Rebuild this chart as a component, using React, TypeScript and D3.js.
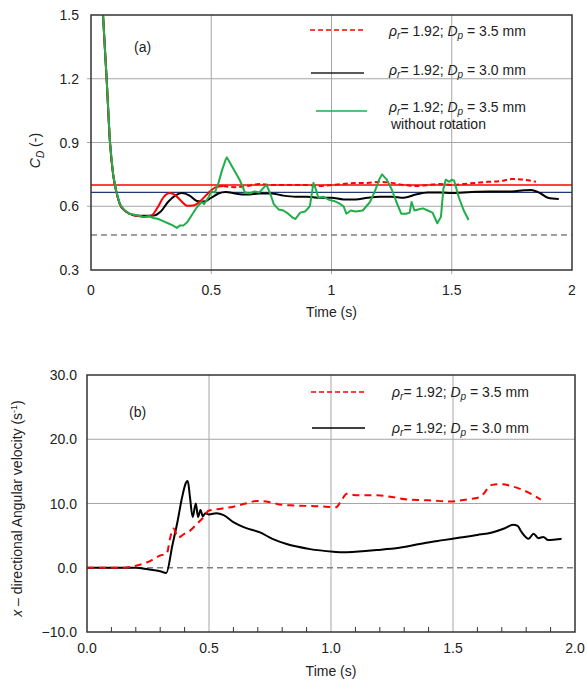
import React from "react";
import * as d3 from "d3";

// ---------- Chart (a): drag coefficient ----------
const cdTicksY = [0.3, 0.6, 0.9, 1.2, 1.5];
const cdTicksX = [0, 0.5, 1, 1.5, 2];
const cdRefRed = 0.7;
const cdRefBlue = 0.665;
const cdRefGray = 0.465;

const rot35T = [0.04, 0.05, 0.065, 0.079, 0.092, 0.105, 0.12, 0.14, 0.16, 0.19, 0.22, 0.25, 0.28, 0.3, 0.328, 0.35, 0.375, 0.4, 0.43, 0.46, 0.49, 0.52, 0.55, 0.6, 0.65, 0.7, 0.75, 0.8, 0.85, 0.9, 0.95, 1.0, 1.05, 1.1, 1.15, 1.2, 1.25, 1.3, 1.35, 1.4, 1.45, 1.5, 1.55, 1.6, 1.65, 1.7, 1.75, 1.8, 1.85];
const rot35V = [1.75, 1.5, 1.2, 0.9, 0.75, 0.67, 0.61, 0.58, 0.565, 0.555, 0.55, 0.555, 0.6, 0.64, 0.662, 0.652, 0.625, 0.602, 0.605, 0.63, 0.665, 0.69, 0.695, 0.69, 0.695, 0.705, 0.7, 0.7, 0.7, 0.7, 0.695, 0.7, 0.705, 0.71, 0.71, 0.715, 0.71, 0.7, 0.695, 0.7, 0.705, 0.7, 0.705, 0.71, 0.715, 0.718, 0.728, 0.725, 0.715];

const rot30T = [0.04, 0.05, 0.065, 0.079, 0.092, 0.105, 0.12, 0.14, 0.16, 0.19, 0.22, 0.26, 0.29, 0.32, 0.35, 0.378, 0.41, 0.44, 0.47, 0.5, 0.53, 0.56, 0.6, 0.65, 0.7, 0.75, 0.8, 0.85, 0.9, 0.95, 1.0, 1.05, 1.1, 1.15, 1.2, 1.25, 1.3, 1.35, 1.4, 1.45, 1.5, 1.55, 1.6, 1.65, 1.7, 1.75, 1.8, 1.83, 1.87, 1.9, 1.945];
const rot30V = [1.75, 1.5, 1.2, 0.9, 0.75, 0.67, 0.61, 0.58, 0.565, 0.555, 0.555, 0.556, 0.575, 0.62, 0.65, 0.662, 0.65, 0.625, 0.622, 0.64, 0.66, 0.667, 0.66, 0.655, 0.66, 0.66, 0.65, 0.645, 0.645, 0.64, 0.64, 0.632, 0.632, 0.64, 0.645, 0.645, 0.64, 0.655, 0.665, 0.665, 0.662, 0.665, 0.668, 0.67, 0.67, 0.67, 0.675, 0.677, 0.66, 0.64, 0.634];

const noRotT = [0.04, 0.05, 0.065, 0.079, 0.092, 0.105, 0.12, 0.14, 0.16, 0.2, 0.22, 0.24, 0.26, 0.28, 0.3, 0.32, 0.34, 0.357, 0.37, 0.385, 0.4, 0.42, 0.44, 0.46, 0.47, 0.49, 0.5, 0.515, 0.53, 0.545, 0.56, 0.565, 0.58, 0.6, 0.62, 0.64, 0.66, 0.68, 0.7, 0.72, 0.73, 0.745, 0.76, 0.78, 0.8, 0.82, 0.84, 0.85, 0.87, 0.89, 0.91, 0.925, 0.935, 0.945, 0.965, 0.99, 1.01, 1.03, 1.05, 1.062, 1.08, 1.1, 1.13, 1.16, 1.18, 1.2, 1.21, 1.23, 1.25, 1.27, 1.29, 1.31, 1.325, 1.333, 1.345, 1.36, 1.38, 1.4, 1.42, 1.44, 1.455, 1.465, 1.475, 1.49, 1.5, 1.51, 1.53, 1.55, 1.57];
const noRotV = [1.75, 1.5, 1.2, 0.9, 0.75, 0.67, 0.61, 0.58, 0.565, 0.555, 0.55, 0.553, 0.545, 0.54, 0.53, 0.52, 0.51, 0.498, 0.51, 0.51, 0.525, 0.56, 0.595, 0.62, 0.61, 0.645, 0.67, 0.665, 0.71, 0.77, 0.82, 0.83, 0.8, 0.76, 0.72, 0.665, 0.66, 0.67, 0.665, 0.69, 0.7, 0.66, 0.61, 0.585, 0.58, 0.565, 0.545, 0.54, 0.57, 0.575, 0.6, 0.71, 0.68, 0.64, 0.645, 0.63, 0.625, 0.615, 0.6, 0.565, 0.58, 0.575, 0.58, 0.62, 0.67, 0.73, 0.75, 0.725, 0.68, 0.62, 0.565, 0.565, 0.57, 0.62, 0.58, 0.585, 0.59, 0.58, 0.57, 0.52, 0.55, 0.68, 0.725, 0.715, 0.725, 0.72, 0.64, 0.58, 0.535];

// ---------- Chart (b): angular velocity ----------
const avTicksY = [-10, 0, 10, 20, 30];
const avTicksX = [0, 0.5, 1.0, 1.5, 2.0];
const avMinorX = [0.1, 0.2, 0.3, 0.4, 0.6, 0.7, 0.8, 0.9, 1.1, 1.2, 1.3, 1.4, 1.6, 1.7, 1.8, 1.9];

const av35T = [0, 0.1, 0.15, 0.2, 0.25, 0.3, 0.327, 0.34, 0.354, 0.374, 0.4, 0.42, 0.45, 0.476, 0.5, 0.55, 0.6, 0.65, 0.7, 0.75, 0.8, 0.85, 0.92, 0.98, 1.02, 1.04, 1.065, 1.1, 1.19, 1.25, 1.32, 1.4, 1.49, 1.55, 1.61, 1.66, 1.7, 1.74, 1.78, 1.82, 1.86];
const av35V = [0, 0, 0, 0.3, 0.9, 1.9, 2.2, 4.5, 6.1, 4.7, 5.3, 5.7, 6.8, 7.8, 8.9, 9.2, 9.5, 10.0, 10.4, 10.2, 9.8, 9.7, 9.6, 9.5, 9.4, 10.3, 11.5, 11.3, 11.3, 11.0, 10.6, 10.5, 10.3, 10.6, 11.0, 12.9, 13.0, 12.7, 12.2, 11.5, 10.6];

const av30T = [0, 0.1, 0.2, 0.25, 0.3, 0.325, 0.35, 0.37, 0.39, 0.405, 0.413, 0.422, 0.433, 0.446, 0.455, 0.465, 0.475, 0.485, 0.5, 0.53, 0.56, 0.6, 0.65, 0.709, 0.76, 0.818, 0.86, 0.914, 1.01, 1.05, 1.1, 1.187, 1.28, 1.39, 1.46, 1.53, 1.6, 1.66, 1.71, 1.746, 1.765, 1.78, 1.81, 1.83, 1.85, 1.87, 1.89, 1.92, 1.945];
const av30V = [0, 0, 0, -0.25, -0.55, -0.8, 3.5, 7, 11, 13.2, 13.5, 11, 7.9, 10, 7.9, 9, 8, 8.5, 8.3, 8.5, 8.2, 7.1, 6.2, 5.5, 4.5, 3.7, 3.3, 2.9, 2.5, 2.4, 2.5, 2.75, 3.1, 3.9, 4.3, 4.7, 5.1, 5.5, 6.1, 6.7, 6.5, 5.6, 4.5, 5.3, 4.6, 4.8, 4.3, 4.4, 4.5];

const FONT = "'Liberation Sans', Arial, sans-serif";
const GRID = "#a6a6a6";
const AXIS = "#333";
const TXT = "#222";
const GREEN = "#1fae4a";

type P = { t: number; v: number };
const zip = (t: number[], v: number[]): P[] => t.map((x, i) => ({ t: x, v: v[i] }));

function LegendLabel({ x, y, dp }: { x: number; y: number; dp: string }) {
  return (
    <text x={x} y={y} fontFamily={FONT} fontSize={14} fill={TXT}>
      <tspan fontStyle="italic">ρ</tspan>
      <tspan fontStyle="italic" fontSize={10} dy={3}>r</tspan>
      <tspan dy={-3}>= 1.92; </tspan>
      <tspan fontStyle="italic">D</tspan>
      <tspan fontStyle="italic" fontSize={10} dy={3}>p</tspan>
      <tspan dy={-3}>{` = ${dp} mm`}</tspan>
    </text>
  );
}

function ChartA() {
  const L = 91, R = 572, T = 15, B = 270;
  const x = d3.scaleLinear().domain([0, 2]).range([L, R]);
  const y = d3.scaleLinear().domain([0.3, 1.5]).range([B, T]);
  const line = d3.line<P>().x((d) => x(d.t)).y((d) => y(d.v)).curve(d3.curveMonotoneX);
  const jag = d3.line<P>().x((d) => x(d.t)).y((d) => y(d.v)).curve(d3.curveLinear);
  const red = zip(rot35T, rot35V);
  const redSolid = red.filter((d) => d.t <= 0.55);
  const redDash = red.filter((d) => d.t >= 0.55);
  return (
    <g>
      <defs>
        <clipPath id="clipA">
          <rect x={L} y={T} width={R - L} height={B - T} />
        </clipPath>
      </defs>
      {cdTicksY.slice(1, -1).map((v) => (
        <line key={"gy" + v} x1={L - 4} x2={R} y1={y(v)} y2={y(v)} stroke={GRID} strokeWidth={1} />
      ))}
      {cdTicksX.slice(1, -1).map((t) => (
        <line key={"gx" + t} x1={x(t)} x2={x(t)} y1={T} y2={B + 4} stroke={GRID} strokeWidth={1} />
      ))}
      <g clipPath="url(#clipA)">
        <line x1={L} x2={R} y1={y(cdRefGray)} y2={y(cdRefGray)} stroke="#808080" strokeWidth={1.5} strokeDasharray="6,4" />
        <line x1={L} x2={R} y1={y(cdRefRed)} y2={y(cdRefRed)} stroke="#ff0000" strokeWidth={1.3} />
        <line x1={L} x2={R} y1={y(cdRefBlue)} y2={y(cdRefBlue)} stroke="#1f3a7a" strokeWidth={1.3} />
        <path d={line(zip(rot30T, rot30V)) || ""} fill="none" stroke="#000" strokeWidth={2} />
        <path d={line(redSolid) || ""} fill="none" stroke="#ff0000" strokeWidth={2} />
        <path d={line(redDash) || ""} fill="none" stroke="#ff0000" strokeWidth={2} strokeDasharray="5,3" />
        <path d={jag(zip(noRotT, noRotV)) || ""} fill="none" stroke={GREEN} strokeWidth={2} strokeLinejoin="round" />
      </g>
      <rect x={L} y={T} width={R - L} height={B - T} fill="none" stroke={AXIS} strokeWidth={1.5} />
      {cdTicksY.map((v) => (
        <text key={"ly" + v} x={L - 12} y={y(v) + 5} textAnchor="end" fontFamily={FONT} fontSize={14} fill={TXT}>
          {d3.format(".1f")(v)}
        </text>
      ))}
      {cdTicksX.map((t) => (
        <text key={"lx" + t} x={x(t)} y={B + 25} textAnchor="middle" fontFamily={FONT} fontSize={14} fill={TXT}>
          {String(t)}
        </text>
      ))}
      <text x={x(1)} y={B + 47} textAnchor="middle" fontFamily={FONT} fontSize={14} fill={TXT}>Time (s)</text>
      <text transform={`translate(40,${(T + B) / 2 + 8}) rotate(-90)`} textAnchor="middle" fontFamily={FONT} fontSize={14} fill={TXT}>
        <tspan fontStyle="italic">C</tspan>
        <tspan fontStyle="italic" fontSize={10} dy={4}>D</tspan>
        <tspan dy={-4}> (-)</tspan>
      </text>
      <text x={134} y={52} fontFamily={FONT} fontSize={14} fill={TXT}>(a)</text>
      <line x1={310} x2={364} y1={30} y2={30} stroke="#ff0000" strokeWidth={1.5} strokeDasharray="5,3" />
      <LegendLabel x={389} y={36} dp="3.5" />
      <line x1={311} x2={364} y1={73} y2={73} stroke="#222" strokeWidth={1.5} />
      <LegendLabel x={389} y={75} dp="3.0" />
      <line x1={316} x2={367} y1={111} y2={111} stroke={GREEN} strokeWidth={1.5} />
      <LegendLabel x={389} y={112} dp="3.5" />
      <text x={391} y={129} fontFamily={FONT} fontSize={14} fill={TXT}>without rotation</text>
    </g>
  );
}

function ChartB() {
  const L = 87, R = 575, T = 375, B = 632;
  const x = d3.scaleLinear().domain([0, 2]).range([L, R]);
  const y = d3.scaleLinear().domain([-10, 30]).range([B, T]);
  const line = d3.line<P>().x((d) => x(d.t)).y((d) => y(d.v)).curve(d3.curveMonotoneX);
  return (
    <g>
      {[10, 20].map((v) => (
        <line key={"gy" + v} x1={L} x2={R} y1={y(v)} y2={y(v)} stroke={GRID} strokeWidth={1} />
      ))}
      {avTicksX.slice(1, -1).map((t) => (
        <line key={"gx" + t} x1={x(t)} x2={x(t)} y1={T} y2={B} stroke={GRID} strokeWidth={1} />
      ))}
      {avMinorX.map((t) => (
        <line key={"mx" + t} x1={x(t)} x2={x(t)} y1={B} y2={B - 5} stroke={AXIS} strokeWidth={1} />
      ))}
      <line x1={L} x2={R} y1={y(0)} y2={y(0)} stroke="#808080" strokeWidth={1.5} strokeDasharray="6,4" />
      <path d={line(zip(av30T, av30V)) || ""} fill="none" stroke="#000" strokeWidth={2} />
      <path d={line(zip(av35T, av35V)) || ""} fill="none" stroke="#ff0000" strokeWidth={2} strokeDasharray="7,5" />
      <rect x={L} y={T} width={R - L} height={B - T} fill="none" stroke={AXIS} strokeWidth={1.5} />
      {avTicksY.map((v) => (
        <text key={"ly" + v} x={L - 10} y={y(v) + 5} textAnchor="end" fontFamily={FONT} fontSize={14} fill={TXT}>
          {d3.format(".1f")(v)}
        </text>
      ))}
      {avTicksX.map((t) => (
        <text key={"lx" + t} x={x(t)} y={B + 21} textAnchor="middle" fontFamily={FONT} fontSize={14} fill={TXT}>
          {d3.format(".1f")(t)}
        </text>
      ))}
      <text x={x(1)} y={B + 44} textAnchor="middle" fontFamily={FONT} fontSize={14} fill={TXT}>Time (s)</text>
      <text transform={`translate(22,${(T + B) / 2 + 5}) rotate(-90)`} textAnchor="middle" fontFamily={FONT} fontSize={14} fill={TXT}>
        <tspan fontStyle="italic">x</tspan>
        <tspan> – directional Angular velocity (s</tspan>
        <tspan fontSize={9} dy={-5}>-1</tspan>
        <tspan dy={5}>)</tspan>
      </text>
      <text x={129} y={417} fontFamily={FONT} fontSize={14} fill={TXT}>(b)</text>
      <line x1={311} x2={364} y1={392} y2={392} stroke="#ff0000" strokeWidth={1.5} strokeDasharray="5,3" />
      <LegendLabel x={392} y={397} dp="3.5" />
      <line x1={312} x2={365} y1={428} y2={428} stroke="#000" strokeWidth={1.5} />
      <LegendLabel x={392} y={433} dp="3.0" />
    </g>
  );
}

export default function App() {
  return (
    <svg width={587} height={682} style={{ position: "absolute", left: 0, top: 0, background: "#fff" }}>
      <rect width={587} height={682} fill="#fff" />
      <ChartA />
      <ChartB />
    </svg>
  );
}
